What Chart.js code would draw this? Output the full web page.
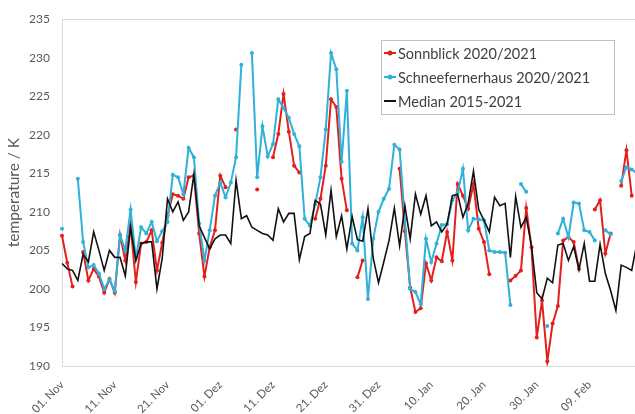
<!DOCTYPE html>
<html lang="de">
<head>
<meta charset="UTF-8">
<title>Temperatur Sonnblick / Schneefernerhaus</title>
<script src="https://cdn.jsdelivr.net/npm/chart.js"></script>
<style>
  html, body { margin: 0; padding: 0; background: #fff; overflow: hidden; }
  /* Original ist rechts abgeschnitten: Canvas etwas breiter als das Fenster */
  #wrap { width: 635px; height: 414px; overflow: hidden; }
</style>
</head>
<body>
<div id="wrap"><canvas id="myChart" width="641" height="414"></canvas></div>
<script>
// Tage ab 01.11.2020, ein Wert pro Tag (null = keine Messung)
const startDate = new Date(2020, 10, 1);
const dayCount = 110;
const monthNames = ['Jan', 'Feb', 'Mär', 'Apr', 'Mai', 'Jun', 'Jul', 'Aug', 'Sep', 'Okt', 'Nov', 'Dez'];
const tickLabels = ['01. Nov', '11. Nov', '21. Nov', '01. Dez', '11. Dez', '21. Dez', '31. Dez', '10. Jan', '20. Jan', '30. Jan', '09. Feb'];

const sonnblick = [
  206.9, 203.4, 200.3, null, 204.8, 201.1, 202.6, 201.6, 199.5, 201.3,
  199.5, 207.0, 203.7, 208.2, 200.9, 205.9, 206.1, 207.6, 202.4, 206.0,
  209.5, 212.3, 212.1, 211.7, 214.5, 214.7, 207.2, 201.6, 205.4, 207.6,
  214.7, 213.2, null, 220.7, null, null, null, 212.9, null, null,
  217.1, 220.1, 225.3, 220.4, 216.0, 215.1, null, null, 209.1, 211.7,
  216.0, 224.6, 223.6, 214.3, 210.2, null, 201.5, 203.7, null, null,
  null, null, null, null, 215.6, 207.5, 200.2, 197.0, 197.5, 203.3,
  201.1, 204.1, 203.6, 207.4, 203.7, 213.6, 212.1, 210.4, 213.6, 207.8,
  206.1, 201.9, null, null, null, 201.1, 201.7, 202.4, 210.5, 205.4,
  193.7, 198.5, 190.6, 195.5, 197.8, 206.3, 206.7, 206.1, 202.6, null,
  null, 210.3, 211.5, 204.6, 207.2, null, 213.4, 218.0, 212.1, null
];

const schneefernerhaus = [
  207.8, null, null, 214.3, 206.1, 202.8, 203.1, 202.0, 200.0, 201.2,
  199.7, 207.0, 205.0, 210.3, 204.0, 208.0, 207.2, 208.7, 206.2, 207.5,
  208.7, 214.8, 214.5, 212.3, 218.3, 217.1, 208.5, 203.7, 207.6, 212.1,
  213.8, 211.9, 213.8, 217.1, 229.1, null, 230.6, 214.5, 221.1, 217.2,
  218.8, 224.6, 223.5, 222.2, 220.1, 218.5, 209.1, 208.2, 211.0, 214.5,
  220.7, 230.6, 228.5, 216.5, 225.7, 205.9, 205.0, 209.3, 198.7, 206.5,
  210.0, 211.7, 213.0, 218.7, 218.1, 209.0, 200.0, 199.6, 198.0, 206.5,
  203.5, 205.9, 208.3, 208.4, 211.5, 212.5, 215.6, 207.6, 209.1, 209.0,
  208.9, 205.0, 204.8, 204.8, 204.7, 197.9, null, 213.6, 212.6, null,
  null, null, 195.2, null, 207.2, 209.1, 206.7, 211.2, 211.1, 207.6,
  207.4, 206.3, null, 207.6, 207.1, null, 214.0, 215.8, 215.5, 215.0
];

const median = [
  203.3, 202.6, 202.4, 201.1, 204.5, 203.5, 207.4, 205.0, 202.4, 205.0,
  204.1, 204.1, 201.7, 208.0, 203.7, 205.9, 206.1, 206.1, 200.0, 204.0,
  211.7, 210.0, 211.3, 208.9, 210.0, 214.9, 208.2, 206.7, 205.2, 206.5,
  207.0, 207.0, 205.9, 214.1, 209.1, 209.5, 208.0, 207.6, 207.2, 207.0,
  206.3, 210.4, 208.7, 209.8, 209.8, 203.8, 206.8, 207.2, 211.5, 211.0,
  207.0, 212.8, 206.8, 209.5, 205.2, 209.4, 206.4, 206.2, 210.4, 204.0,
  200.8, 203.5, 206.3, 210.5, 205.6, 210.8, 206.5, 212.3, 209.7, 212.1,
  208.2, 208.7, 207.4, 208.4, 212.1, 212.3, 209.3, 211.1, 215.3, 210.3,
  208.9, 207.4, 211.9, 210.8, 211.1, 204.1, 212.0, 208.0, 209.3, 205.6,
  199.5, 198.7, 201.4, 200.8, 205.7, 205.9, 203.7, 205.5, 202.5, 205.9,
  201.0, 201.0, 205.8, 202.0, 199.8, 197.2, 203.1, 202.8, 202.4, 206.0
];

const labels = [];
for (let i = 0; i < dayCount; i++) {
  const d = new Date(startDate.getFullYear(), startDate.getMonth(), startDate.getDate() + i);
  labels.push(String(d.getDate()).padStart(2, '0') + '. ' + monthNames[d.getMonth()]);
}

const red = '#e3201e';
const cyan = '#2fb1da';
const black = '#111111';
const grey = '#595959';
const font = 'Lato, "Open Sans", sans-serif';

// Legende als Kasten im Diagramm (wie im Excel-Original)
const legendBox = {
  id: 'legendBox',
  afterDraw(chart) {
    const ctx = chart.ctx;
    const x = 381, y = 40, w = 233, h = 74;
    ctx.save();
    ctx.fillStyle = '#ffffff';
    ctx.fillRect(x, y, w, h);
    ctx.strokeStyle = '#bfbfbf';
    ctx.lineWidth = 1;
    ctx.strokeRect(x + 0.5, y + 0.5, w, h);
    ctx.font = '14.5px ' + font;
    ctx.textBaseline = 'middle';
    chart.data.datasets.forEach((ds, i) => {
      const ry = y + 13 + i * 24;
      ctx.strokeStyle = ds.borderColor;
      ctx.lineWidth = 2;
      ctx.beginPath();
      ctx.moveTo(x + 3, ry);
      ctx.lineTo(x + 15, ry);
      ctx.stroke();
      if (ds.pointRadius > 0) {
        ctx.fillStyle = ds.borderColor;
        ctx.beginPath();
        ctx.arc(x + 9, ry, 2.5, 0, Math.PI * 2);
        ctx.fill();
      }
      ctx.fillStyle = '#404040';
      ctx.fillText(ds.label, x + 17, ry + 1);
    });
    ctx.restore();
  }
};

const ctx = document.getElementById('myChart').getContext('2d');
const myChart = new Chart(ctx, {
  type: 'line',
  data: {
    labels: labels,
    datasets: [
      { label: 'Sonnblick 2020/2021', data: sonnblick, borderColor: red, backgroundColor: red,
        pointBackgroundColor: red, borderWidth: 2, pointRadius: 2, pointBorderWidth: 0, order: 2 },
      { label: 'Schneefernerhaus 2020/2021', data: schneefernerhaus, borderColor: cyan, backgroundColor: cyan,
        pointBackgroundColor: cyan, borderWidth: 2, pointRadius: 2, pointBorderWidth: 0, order: 1 },
      { label: 'Median 2015-2021', data: median, borderColor: black, backgroundColor: black,
        borderWidth: 1.6, pointRadius: 0, order: 0 }
    ]
  },
  options: {
    responsive: false,
    animation: false,
    spanGaps: false,
    layout: { padding: { top: 18, right: 0, bottom: 0, left: 2 } },
    plugins: {
      legend: { display: false },
      tooltip: { enabled: false }
    },
    elements: { line: { tension: 0 } },
    scales: {
      x: {
        offset: false,
        grid: { display: false },
        border: { display: true, color: '#d9d9d9', width: 1 },
        ticks: {
          autoSkip: false,
          minRotation: 45,
          maxRotation: 45,
          padding: 4,
          color: grey,
          font: { family: font, size: 11.5 },
          callback: (val, i) => (i % 10 === 0 ? tickLabels[i / 10] : '')
        },
        afterFit: (scale) => {
          scale.height = 48;
          scale.paddingRight = 0;
          scale.paddingLeft = 0;
        }
      },
      y: {
        min: 190,
        max: 235,
        grid: {
          drawTicks: false,
          color: (c) => (c.tick && c.tick.value === 235 ? '#d9d9d9' : 'rgba(0,0,0,0)')
        },
        border: { display: true, color: '#d9d9d9', width: 1 },
        ticks: {
          stepSize: 5,
          padding: 12,
          color: grey,
          font: { family: font, size: 12 }
        },
        title: {
          display: true,
          text: 'temperature / K',
          color: grey,
          font: { family: font, size: 15.5 },
          padding: { top: 3, bottom: 0 }
        },
        afterFit: (scale) => { scale.width = 60; }
      }
    }
  },
  plugins: [legendBox]
});
</script>
</body>
</html>
